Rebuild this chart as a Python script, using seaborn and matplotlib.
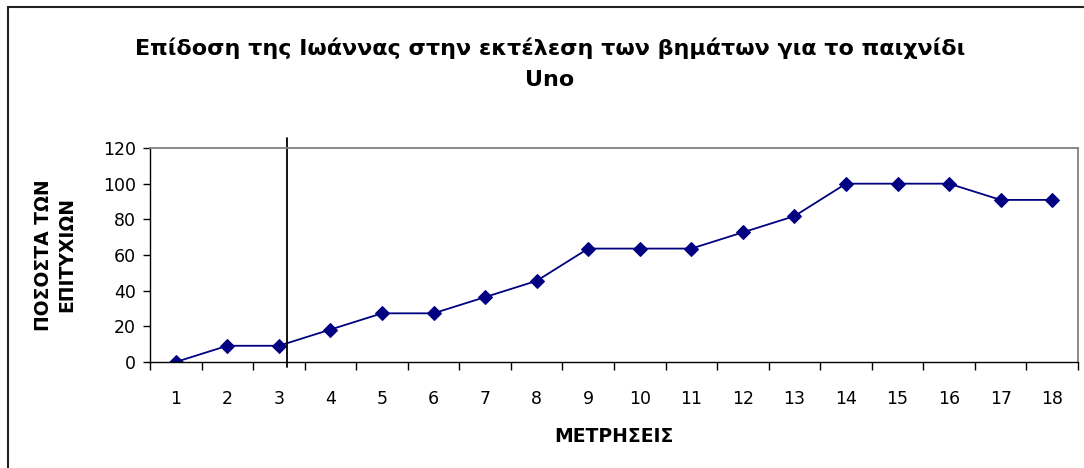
import numpy as np
import pandas as pd
import matplotlib
matplotlib.use("Agg")
import matplotlib.pyplot as plt
from matplotlib.patches import Rectangle
from matplotlib.ticker import FixedLocator, NullFormatter
import seaborn as sns

sns.set_style("white")
plt.rcParams['font.family'] = ['DejaVu Sans']
plt.rcParams['text.color'] = 'black'
plt.rcParams['xtick.color'] = 'black'
plt.rcParams['ytick.color'] = 'black'
plt.rcParams['axes.labelcolor'] = 'black'

# δεδομένα
measurements = list(range(1, 19))
success_pct = [0, 9.1, 9.1, 18.2, 27.3, 27.3, 36.4, 45.5, 63.6,
               63.6, 63.6, 72.7, 81.8, 100, 100, 100, 90.9, 90.9]
phase_line = 3.15  # διαχωριστική γραμμή φάσεων

title = "Επίδοση της Ιωάννας στην εκτέλεση των βημάτων για το παιχνίδι\nUno"
x_label = "ΜΕΤΡΗΣΕΙΣ"
y_label = "ΠΟΣΟΣΤΑ ΤΩΝ\nΕΠΙΤΥΧΙΩΝ"

df = pd.DataFrame({'measurement': measurements, 'pct': success_pct})

fig = plt.figure(figsize=(10.84, 4.68), dpi=100)
ax = fig.add_axes([150/1084, 1 - 362/468, 928/1084, 214/468])

sns.lineplot(data=df, x='measurement', y='pct', ax=ax, color='#000080',
             linewidth=1.3, marker='D', markersize=7,
             markeredgecolor='#000080', markerfacecolor='#000080')

ax.set_xlim(0.5, 18.5)
ax.set_ylim(0, 120)
ax.set_yticks(range(0, 121, 20))

# ticks στα όρια των κατηγοριών, ετικέτες στο κέντρο
ax.xaxis.set_major_locator(FixedLocator(np.arange(0.5, 19, 1)))
ax.xaxis.set_major_formatter(NullFormatter())
ax.xaxis.set_minor_locator(FixedLocator(measurements))
ax.set_xticklabels([str(m) for m in measurements], minor=True)
ax.tick_params(axis='x', which='major', direction='out', length=5.5, width=1, color='black', bottom=True)
ax.tick_params(axis='x', which='minor', length=0, pad=20, labelsize=12.5)
ax.tick_params(axis='y', direction='out', length=5, width=1, color='black', left=True, pad=5, labelsize=12.5)

for side in ['left', 'bottom']:
    ax.spines[side].set_color('black')
    ax.spines[side].set_linewidth(1.0)
for side in ['top', 'right']:
    ax.spines[side].set_visible(True)
    ax.spines[side].set_color('#808080')
    ax.spines[side].set_linewidth(1.3)
ax.grid(False)

ax.axvline(phase_line, ymin=-0.025, ymax=1.047, color='black', linewidth=1.3, clip_on=False)

ax.set_xlabel(x_label, fontsize=13.5, fontweight='bold', va='center')
ax.xaxis.set_label_coords(0.5, -0.35)
ax.set_ylabel(y_label, fontsize=13.5, fontweight='bold', va='center', linespacing=1.3)
ax.yaxis.set_label_coords(-0.102, 0.5)

fig.text(550/1084, 1 - 63.5/468, title, ha='center', va='center',
         fontsize=16, fontweight='bold', linespacing=1.7)

# περίγραμμα γραφήματος
fig.add_artist(Rectangle((7.5/1084, -0.1), 1.1, 1.1 - 7.5/468, transform=fig.transFigure,
                         fill=False, edgecolor='#222222', linewidth=1.5))

fig.savefig('out.png', dpi=100)
